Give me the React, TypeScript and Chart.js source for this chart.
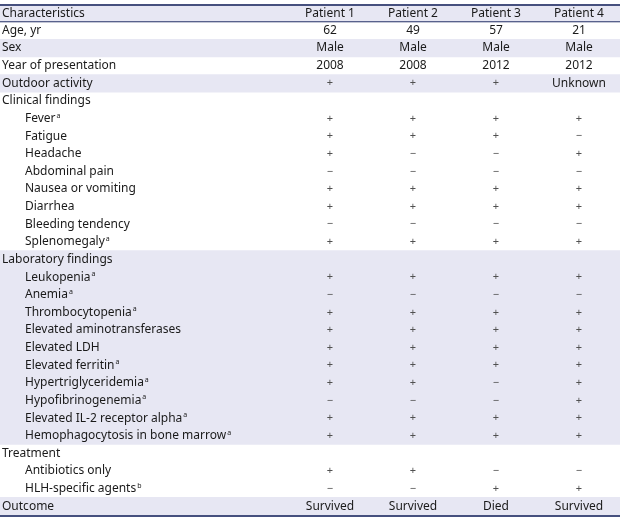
import React, { useEffect, useRef } from "react";
import { Chart, registerables } from "chart.js";

Chart.register(...registerables);

const headerLabels = ["Characteristics", "Patient 1", "Patient 2", "Patient 3", "Patient 4"];

const rowLabels = [
  "Age, yr",
  "Sex",
  "Year of presentation",
  "Outdoor activity",
  "Clinical findings",
  "Fever",
  "Fatigue",
  "Headache",
  "Abdominal pain",
  "Nausea or vomiting",
  "Diarrhea",
  "Bleeding tendency",
  "Splenomegaly",
  "Laboratory findings",
  "Leukopenia",
  "Anemia",
  "Thrombocytopenia",
  "Elevated aminotransferases",
  "Elevated LDH",
  "Elevated ferritin",
  "Hypertriglyceridemia",
  "Hypofibrinogenemia",
  "Elevated IL-2 receptor alpha",
  "Hemophagocytosis in bone marrow",
  "Treatment",
  "Antibiotics only",
  "HLH-specific agents",
  "Outcome",
];

const rowSuperscripts = [
  "", "", "", "", "",
  "a", "", "", "", "", "", "", "a",
  "",
  "a", "a", "a", "", "", "a", "a", "a", "a", "a",
  "",
  "", "b",
  "",
];

const rowIndented = [
  false, false, false, false, false,
  true, true, true, true, true, true, true, true,
  false,
  true, true, true, true, true, true, true, true, true, true,
  false,
  true, true,
  false,
];

const P = "+";
const M = "\u2212";

const patient1 = ["62", "Male", "2008", P, "", P, P, P, M, P, P, M, P, "", P, M, P, P, P, P, P, M, P, P, "", P, M, "Survived"];
const patient2 = ["49", "Male", "2008", P, "", P, P, M, M, P, P, M, P, "", P, M, P, P, P, P, P, M, P, P, "", P, M, "Survived"];
const patient3 = ["57", "Male", "2012", P, "", P, P, M, M, P, P, M, P, "", P, M, P, P, P, P, M, M, P, P, "", M, P, "Died"];
const patient4 = ["21", "Male", "2012", "Unknown", "", P, M, P, M, P, P, M, P, "", P, M, P, P, P, P, P, P, P, P, "", M, P, "Survived"];

const patients = [patient1, patient2, patient3, patient4];

// shaded bands (1 = shaded), first entry is the header row
const shadedRows = [1, 0, 1, 0, 1, 0, 0, 0, 0, 0, 0, 0, 0, 0, 1, 1, 1, 1, 1, 1, 1, 1, 1, 1, 1, 0, 0, 0, 1];

const W = 620;
const H = 518;
const FONT = "'Noto Sans', 'Open Sans', sans-serif";

const tablePlugin = {
  id: "tableText",
  afterDatasetsDraw(chart: any) {
    const { ctx, scales } = chart;
    const x = scales.x;
    const y = scales.y;
    const colX = [2, 330, 413, 496, 579];
    const indentX = 25;
    const band = Math.abs(y.getPixelForValue(1) - y.getPixelForValue(0));
    const top = y.getPixelForValue(0) - band / 2;
    const bottom = y.getPixelForValue(rowLabels.length) + band / 2;
    const headerBottom = top + band;

    ctx.save();
    // rules
    ctx.fillStyle = "#46507e";
    ctx.fillRect(x.left, top, x.right - x.left, 2);
    ctx.fillRect(x.left, headerBottom - 0.5, x.right - x.left, 1.2);
    ctx.fillRect(x.left, bottom, x.right - x.left, 2);

    ctx.textBaseline = "middle";
    const font = `12px ${FONT}`;

    // header
    const hy = y.getPixelForValue(0) + 1;
    ctx.font = font;
    ctx.fillStyle = "#1a1a1a";
    headerLabels.forEach((lab, i) => {
      ctx.textAlign = i === 0 ? "left" : "center";
      ctx.fillText(lab, x.getPixelForValue(colX[i]), hy);
    });

    rowLabels.forEach((lab, r) => {
      const py = y.getPixelForValue(r + 1);
      ctx.font = font;
      ctx.textAlign = "left";
      ctx.fillStyle = "#1a1a1a";
      const lx = x.getPixelForValue(rowIndented[r] ? indentX : colX[0]);
      ctx.fillText(lab, lx, py);
      const sup = rowSuperscripts[r];
      if (sup) {
        const w = ctx.measureText(lab).width;
        ctx.font = `7px ${FONT}`;
        ctx.fillText(sup, lx + w + 1, py - 3);
      }
      patients.forEach((vals, c) => {
        const v = vals[r];
        if (!v) return;
        const isSym = v === P || v === M;
        ctx.font = isSym ? `11px ${FONT}` : font;
        ctx.fillStyle = isSym ? "#505050" : "#1a1a1a";
        ctx.textAlign = "center";
        ctx.fillText(v, x.getPixelForValue(colX[c + 1]), py);
      });
    });
    ctx.restore();
  },
};

export default function App() {
  const ref = useRef<HTMLCanvasElement | null>(null);
  useEffect(() => {
    if (!ref.current) return;
    const labels = [headerLabels[0], ...rowLabels];
    const chart = new Chart(ref.current, {
      type: "bar",
      data: {
        labels,
        datasets: [
          {
            label: "bands",
            data: shadedRows.map((s) => (s ? [0, W] : null)) as any,
            backgroundColor: "#e7e7f3",
            borderWidth: 0,
            barPercentage: 1,
            categoryPercentage: 1,
          },
        ],
      },
      options: {
        indexAxis: "y",
        responsive: false,
        animation: false,
        layout: { padding: { top: 4, bottom: 3, left: 0, right: 0 } },
        plugins: { legend: { display: false }, tooltip: { enabled: false } },
        scales: {
          x: { type: "linear", min: 0, max: W, display: false },
          y: { type: "category", display: false, offset: true, grid: { display: false } },
        },
      },
      plugins: [tablePlugin],
    });
    return () => chart.destroy();
  }, []);
  return (
    <div style={{ position: "fixed", left: 0, top: 0, width: W, height: H, background: "#fff" }}>
      <canvas ref={ref} width={W} height={H} style={{ width: W, height: H }} />
    </div>
  );
}
